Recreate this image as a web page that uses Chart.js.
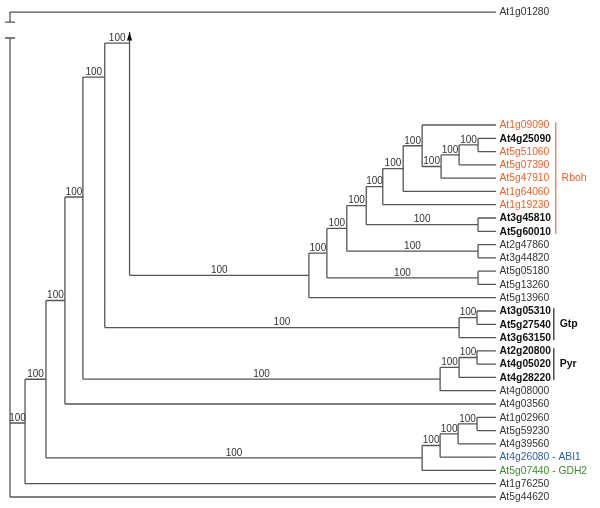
<!DOCTYPE html>
<html><head><meta charset="utf-8">
<script src="https://cdn.jsdelivr.net/npm/chart.js@4.4.1/dist/chart.umd.min.js"></script>
<style>html,body{margin:0;padding:0;background:#fff}#wrap{width:600px;height:508px;position:relative}</style>
</head><body><div id="wrap"><canvas id="c"></canvas></div>
<script>
// ---------- DATA ----------
// Outgroup drawn above the axis break
const outgroupName = 'At1g01280';
const outgroupRow = -7.5;
// Leaves top to bottom, rows 1..29
const leafNames = ['At1g09090','At4g25090','At5g51060','At5g07390','At5g47910','At1g64060','At1g19230',
  'At3g45810','At5g60010','At2g47860','At3g44820','At5g05180','At5g13260','At5g13960',
  'At3g05310','At5g27540','At3g63150','At2g20800','At4g05020','At4g28220','At4g08000',
  'At4g03560','At1g02960','At5g59230','At4g39560','At4g26080','At5g07440','At1g76250','At5g44620'];
const leafSuffix = {At4g26080:' - ABI1', At5g07440:' - GDH2'};
const leafKind = ['rboh','bold','rboh','rboh','rboh','rboh','rboh','bold','bold','plain','plain','plain','plain','plain',
  'bold','bold','bold','bold','bold','bold','plain','plain','plain','plain','plain','abi','gdh','plain','plain'];
const tipDepth = 100;

// Internal nodes: depth (distance from root), children, bootstrap support
const nodeNames = ['root','N1','N2','N3','N4','N5','N6','N7','N8','N9','N10','N11','N12','N13','N14','N15','N16',
  'R1','R2','R3','G1','G2','P1','P2','P3','A1','A2','A3','A4'];
const nodeDepth = [0,3.1,7.4,11.3,15.0,19.5,24.6,61.5,65.2,69.3,73.3,76.7,80.9,84.8,88.7,92.4,96.3,
  96.3,96.3,96.3,92.4,96.1,88.5,92.4,96.1,84.8,88.5,92.2,96.1];
const nodeChildren = [
  ['At1g01280','N1','At5g44620'],
  ['N2','At1g76250'],
  ['N3','A1'],
  ['N4','At4g03560'],
  ['N5','P1'],
  ['N6','G1'],
  ['N7'],
  ['N8','At5g13960'],
  ['N9','R3'],
  ['N10','R2'],
  ['N11','R1'],
  ['N12','At1g19230'],
  ['N13','At1g64060'],
  ['At1g09090','N14'],
  ['N15','At5g47910'],
  ['N16','At5g07390'],
  ['At4g25090','At5g51060'],
  ['At3g45810','At5g60010'],
  ['At2g47860','At3g44820'],
  ['At5g05180','At5g13260'],
  ['G2','At3g63150'],
  ['At3g05310','At5g27540'],
  ['P2','At4g08000'],
  ['P3','At4g28220'],
  ['At2g20800','At4g05020'],
  ['A2','At5g07440'],
  ['A3','At4g26080'],
  ['A4','At4g39560'],
  ['At1g02960','At5g59230']
];
const nodeSupport = [null,100,100,100,100,100,100,100,100,100,100,100,100,100,100,100,100,
  100,100,100,100,100,100,100,100,100,100,100,100];
// Nodes whose drawn row differs from the midpoint of their children
const nodeRowFixed = {N1:23.43, N4:6.42, N5:-2.61, N6:-5.17};
// Truncated branch shown with an arrow on node N6
const arrowNode = 'N6';
const arrowRow = -6.0;
// Broken root axis
const rootBreak = [-6.75, -5.55];

// Groups (brackets)
const groupNames = ['Rboh','Gtp','Pyr'];
const groupFirst = ['At1g09090','At3g05310','At2g20800'];
const groupLast = ['At5g60010','At3g63150','At4g28220'];
const groupKind = ['rboh','bold','bold'];

// ---------- BUILD ----------
const COLORS = {rboh:'#ef5f27', bold:'#111111', plain:'#333333', abi:'#2c5ca8', gdh:'#3a8a2c'};
const leafRow = {}; leafNames.forEach((n,i)=>leafRow[n]=i+1); leafRow[outgroupName]=outgroupRow;
const allLeafKind = {}; leafNames.forEach((n,i)=>allLeafKind[n]=leafKind[i]); allLeafKind[outgroupName]='plain';
const nodeIdx = {}; nodeNames.forEach((n,i)=>nodeIdx[n]=i);
const parentOf = {};
nodeChildren.forEach((ch,i)=>ch.forEach(c=>parentOf[c]=nodeNames[i]));
function depthOf(n){ return (n in nodeIdx) ? nodeDepth[nodeIdx[n]] : tipDepth; }
const rowCache = {};
function rowOf(n){
  if (n in leafRow) return leafRow[n];
  if (n in rowCache) return rowCache[n];
  let r;
  if (n in nodeRowFixed) r = nodeRowFixed[n];
  else { const ch = nodeChildren[nodeIdx[n]]; r = (rowOf(ch[0]) + rowOf(ch[ch.length-1]))/2; }
  rowCache[n] = r; return r;
}
const treePts = [];
function seg(x1,y1,x2,y2){ treePts.push({x:x1,y:y1},{x:x2,y:y2},{x:x2,y:null}); }
nodeNames.forEach((n,i)=>{
  const d = nodeDepth[i];
  const rows = nodeChildren[i].map(rowOf);
  if (n === arrowNode) rows.push(arrowRow);
  const top = Math.min(...rows), bot = Math.max(...rows);
  if (n === 'root') {
    seg(d, top, d, rootBreak[0]);
    seg(d, rootBreak[1], d, bot);
    seg(d-1.03, rootBreak[0], d+1.03, rootBreak[0]);
    seg(d-1.03, rootBreak[1], d+1.03, rootBreak[1]);
  } else {
    seg(d, top, d, bot);
  }
  nodeChildren[i].forEach(c=>{ const r = rowOf(c); seg(d, r, depthOf(c), r); });
});
const bracketData = {rboh:[], bold:[]};
groupNames.forEach((g,i)=>{
  const x = groupKind[i]==='rboh' ? 112.3 : 111.9;
  bracketData[groupKind[i]].push({x:x,y:leafRow[groupFirst[i]]-0.2},{x:x,y:leafRow[groupLast[i]]+0.2},{x:x,y:null});
});

const FONT = '"Liberation Sans", Arial, Helvetica, sans-serif';
const textPlugin = {
  id:'treeText',
  afterDatasetsDraw(chart){
    const ctx = chart.ctx, xs = chart.scales.x, ys = chart.scales.y;
    ctx.save();
    // arrow
    const ax = xs.getPixelForValue(depthOf(arrowNode)), ay = ys.getPixelForValue(arrowRow);
    ctx.fillStyle = '#111';
    ctx.beginPath(); ctx.moveTo(ax, ay); ctx.lineTo(ax-2.6, ay+8.5); ctx.lineTo(ax+2.6, ay+8.5); ctx.closePath(); ctx.fill();
    // support values
    ctx.font = '10px ' + FONT; ctx.fillStyle = '#333'; ctx.textAlign = 'center'; ctx.textBaseline = 'alphabetic';
    nodeNames.forEach((n,i)=>{
      if (nodeSupport[i] == null) return;
      const p = parentOf[n];
      const xm = (depthOf(p) + nodeDepth[i])/2;
      ctx.fillText(String(nodeSupport[i]), xs.getPixelForValue(xm), ys.getPixelForValue(rowOf(n)) - 2.2);
    });
    // leaf labels
    ctx.textAlign = 'left'; ctx.textBaseline = 'middle';
    Object.keys(leafRow).forEach(n=>{
      const k = allLeafKind[n];
      ctx.font = (k==='bold' ? 'bold ' : '') + '10.3px ' + FONT;
      ctx.fillStyle = COLORS[k];
      ctx.fillText(n + (leafSuffix[n]||''), xs.getPixelForValue(tipDepth) + 3.5, ys.getPixelForValue(leafRow[n]) + 0.5);
    });
    // group labels
    groupNames.forEach((g,i)=>{
      const k = groupKind[i];
      ctx.font = (k==='bold' ? 'bold ' : '') + '10.5px ' + FONT;
      ctx.fillStyle = COLORS[k];
      const x = (k==='rboh'?112.3:111.9) + 1.2;
      const r = (leafRow[groupFirst[i]] + leafRow[groupLast[i]])/2;
      ctx.fillText(g, xs.getPixelForValue(x) , ys.getPixelForValue(r));
    });
    ctx.restore();
  }
};

new Chart(document.getElementById('c'), {
  type:'scatter',
  data:{datasets:[
    {data:treePts, showLine:true, spanGaps:false, borderColor:'#555', borderWidth:1.3, pointRadius:0, fill:false},
    {data:bracketData.rboh, showLine:true, spanGaps:false, borderColor:COLORS.rboh, borderWidth:1.1, pointRadius:0},
    {data:bracketData.bold, showLine:true, spanGaps:false, borderColor:'#111', borderWidth:1.1, pointRadius:0}
  ]},
  options:{
    responsive:true, maintainAspectRatio:false, animation:false,
    layout:{padding:0},
    plugins:{legend:{display:false}, tooltip:{enabled:false}},
    scales:{
      x:{type:'linear', display:false, min:-2.058, max:121.4},
      y:{type:'linear', display:false, reverse:true, min:-8.409, max:29.828}
    }
  },
  plugins:[textPlugin]
});
</script></body></html>
